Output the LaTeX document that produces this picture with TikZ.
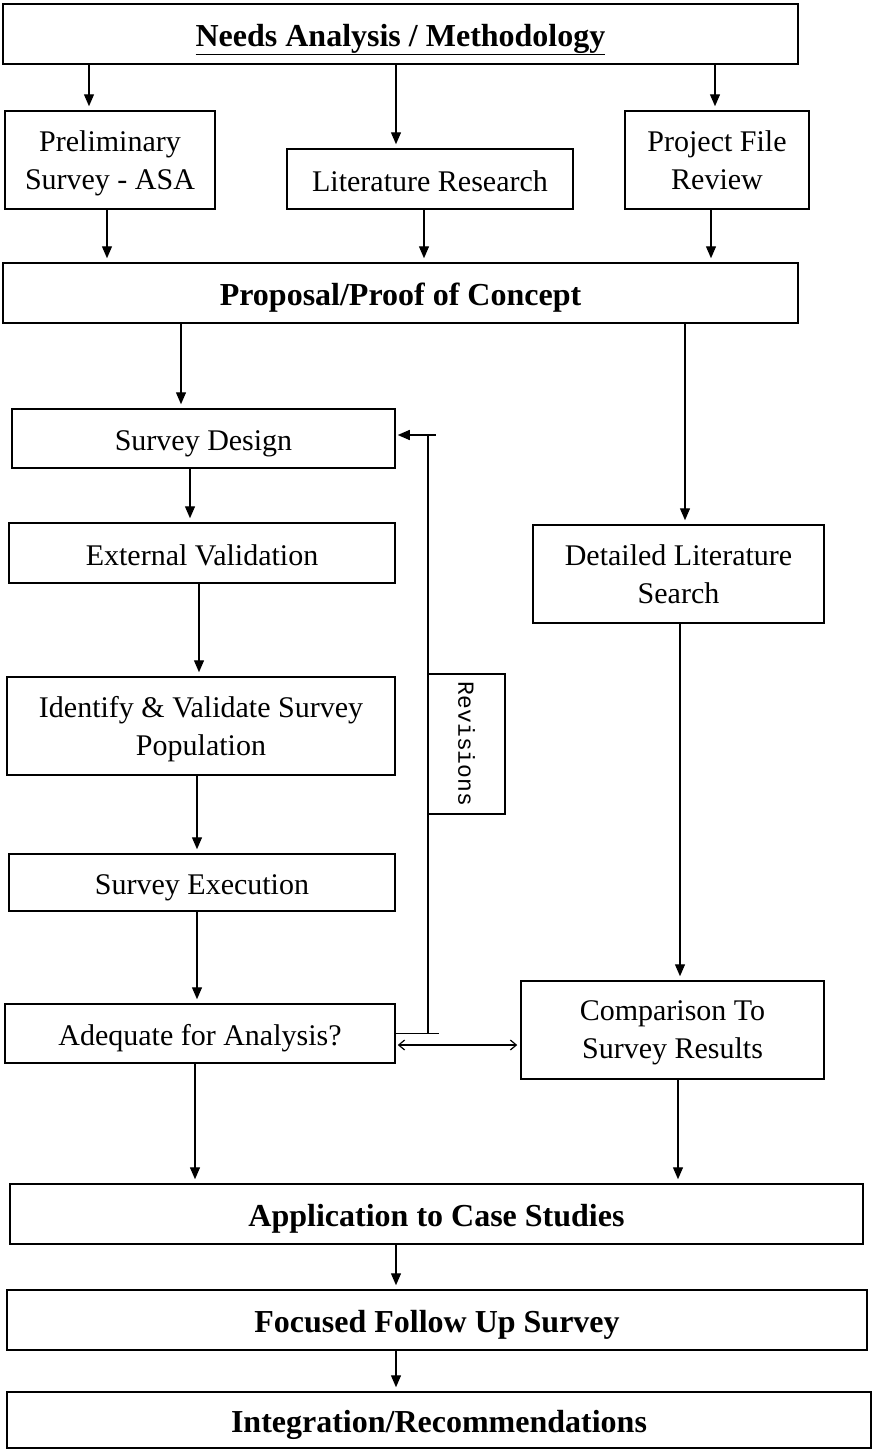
\documentclass[tikz,border=0pt]{standalone}
\usepackage{fontspec}
\setmainfont{Liberation Serif}
\newfontfamily\monofnt{Liberation Mono}
\usetikzlibrary{arrows.meta}
\begin{document}
\begin{tikzpicture}[x=1pt,y=-1pt,
  box/.style={draw, line width=1.5pt, inner sep=0pt, align=center, font=\fontsize{30}{38}\selectfont},
  bbox/.style={box, font=\fontsize{32}{38}\selectfont\bfseries},
  one/.style={text height=24pt, text depth=0pt},
  two/.style={text depth=0pt},
  arr/.style={line width=1.3pt, -{Triangle[length=12pt,width=10pt]}, shorten >=4pt},
  loopline/.style={line width=1.5pt}
]
\useasboundingbox (0,0) rectangle (874,1449);
\fill[white] (0,0) rectangle (874,1449);

\node[bbox, one, minimum width=795, minimum height=60] (needs) at (400.5,34) {\underline{Needs Analysis / Methodology}};
\node[box, two, minimum width=210, minimum height=98] (prelim) at (110,160) {Preliminary\\Survey - ASA};
\node[box, one, minimum width=286, minimum height=60] (lit) at (430,179) {Literature Research};
\node[box, two, minimum width=184, minimum height=98] (proj) at (717,160) {Project File\\Review};
\node[bbox, one, minimum width=795, minimum height=60] (prop) at (400.5,293) {Proposal/Proof of Concept};
\node[box, one, minimum width=383, minimum height=59] (sdes) at (203.5,438.5) {Survey Design};
\node[box, one, minimum width=386, minimum height=60] (ext) at (202,553) {External Validation};
\node[box, two, minimum width=388, minimum height=98] (ident) at (201,726) {Identify \& Validate Survey\\Population};
\node[box, one, minimum width=386, minimum height=57] (exec) at (202,882.5) {Survey Execution};
\node[box, one, minimum width=390, minimum height=59] (adeq) at (200,1033.5) {Adequate for Analysis?};
\node[box, two, minimum width=291, minimum height=98] (det) at (678.5,574) {Detailed Literature\\Search};
\node[box, two, minimum width=303, minimum height=98] (comp) at (672.5,1030) {Comparison To\\Survey Results};
\node[box, minimum width=77, minimum height=140] (rev) at (466.5,744) {};
\node[font=\monofnt\fontsize{23}{26}\selectfont, rotate=-90] (revt) at (rev.center) {Revisions};
\node[bbox, one, minimum width=853, minimum height=60] (app) at (436.5,1214) {Application to Case Studies};
\node[bbox, one, minimum width=860, minimum height=60] (foc) at (437,1320) {Focused Follow Up Survey};
\node[bbox, one, minimum width=864, minimum height=56] (integ) at (439,1420) {Integration/Recommendations};

% arrows
\draw[arr] ([xshift=-21pt]prelim.north |- needs.south) -- ([xshift=-21pt]prelim.north);
\draw[arr] ([xshift=-34pt]lit.north |- needs.south) -- ([xshift=-34pt]lit.north);
\draw[arr] ([xshift=-2pt]proj.north |- needs.south) -- ([xshift=-2pt]proj.north);
\draw[arr] ([xshift=-3pt]prelim.south) -- ([xshift=-3pt]prelim.south |- prop.north);
\draw[arr] ([xshift=-6pt]lit.south) -- ([xshift=-6pt]lit.south |- prop.north);
\draw[arr] ([xshift=-6pt]proj.south) -- ([xshift=-6pt]proj.south |- prop.north);
\draw[arr] ([xshift=-22.5pt]sdes.north |- prop.south) -- ([xshift=-22.5pt]sdes.north);
\draw[arr] ([xshift=6.5pt]det.north |- prop.south) -- ([xshift=6.5pt]det.north);
\draw[arr] ([xshift=-13.5pt]sdes.south) -- ([xshift=-13.5pt]sdes.south |- ext.north);
\draw[arr] ([xshift=-3pt]ext.south) -- ([xshift=-3pt]ext.south |- ident.north);
\draw[arr] ([xshift=-4pt]ident.south) -- ([xshift=-4pt]ident.south |- exec.north);
\draw[arr] ([xshift=-5pt]exec.south) -- ([xshift=-5pt]exec.south |- adeq.north);
\draw[arr] ([xshift=-5pt]adeq.south) -- ([xshift=-5pt]adeq.south |- app.north);
\draw[arr] ([xshift=1.5pt]det.south) -- ([xshift=1.5pt]det.south |- comp.north);
\draw[arr] ([xshift=5.5pt]comp.south) -- ([xshift=5.5pt]comp.south |- app.north);
\draw[arr] ([xshift=-40.5pt]app.south) -- ([xshift=-40.5pt]app.south |- foc.north);
\draw[arr] ([xshift=-41pt]foc.south) -- ([xshift=-41pt]foc.south |- integ.north);

% revisions loop
\coordinate (rtop) at ([xshift=32pt, yshift=3.5pt]sdes.east);
\coordinate (rbot) at ([xshift=32pt]adeq.east);
\draw[loopline] (rbot) -- (rtop);
\draw[loopline, -{Triangle[length=12pt,width=10pt]}, shorten >=2pt] ([xshift=40pt, yshift=3.5pt]sdes.east) -- ([yshift=3.5pt]sdes.east);
\draw[loopline] (adeq.east) -- ([xshift=43pt]adeq.east);
\draw[line width=1.2pt, {Straight Barb[length=6pt,width=10pt]}-{Straight Barb[length=6pt,width=10pt]}, shorten <=2pt, shorten >=3pt] ([yshift=-11.5pt]adeq.east) -- ([yshift=-11.5pt]adeq.east -| comp.west);
\end{tikzpicture}
\end{document}
